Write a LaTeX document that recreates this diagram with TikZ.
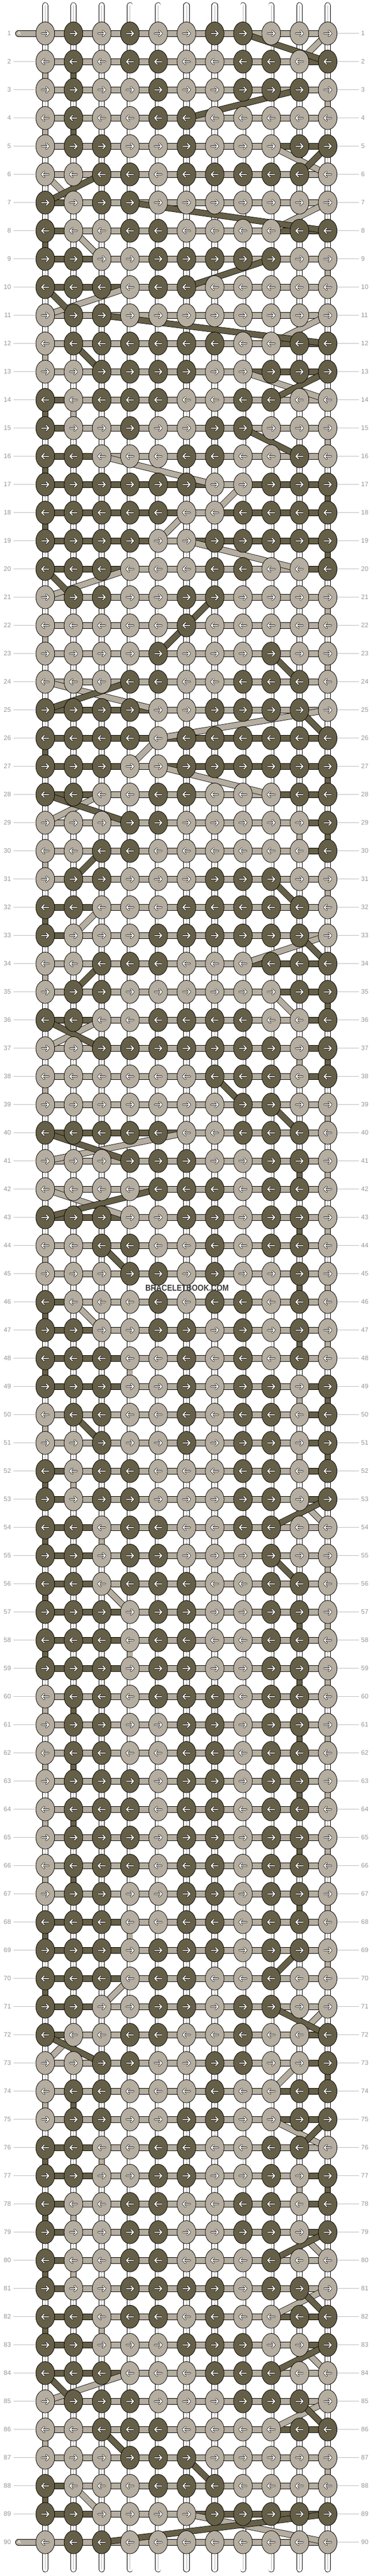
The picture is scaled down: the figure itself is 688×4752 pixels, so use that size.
\documentclass[tikz,border=0pt]{standalone}
\usepackage{fontspec}
\setmainfont{Liberation Sans}
\usetikzlibrary{shapes.geometric}
\definecolor{cL}{RGB}{181,174,160}
\definecolor{cD}{RGB}{101,95,71}
\definecolor{labc}{RGB}{150,150,150}
\definecolor{linec}{RGB}{190,190,190}
\definecolor{wmark}{RGB}{60,60,60}
\pgfdeclarelayer{lstr}
\pgfdeclarelayer{lbar}
\pgfdeclarelayer{lband}
\pgfdeclarelayer{lfront}
\pgfsetlayers{lstr,lbar,lband,main,lfront}
\newcount\PL \newcount\PR \newcount\PA \newcount\PB \newcount\tmpc
\newcommand\KRow[2]{\foreach \k [count=\c] in {#2}{\expandafter\xdef\csname kc-#1-\c\endcsname{\k}}}
\newcommand\FindPL[1]{%
  \global\PL=0 \tmpc=2 %
  \loop
    \ifnum\PL=0
      \if\csname kc-#1-\the\tmpc\endcsname\csname kc-#1-1\endcsname\else\global\PL=\tmpc\fi
    \fi
    \advance\tmpc by 1
  \ifnum\tmpc<12 \repeat}
\newcommand\FindPR[1]{%
  \global\PR=0 \tmpc=10 %
  \loop
    \ifnum\PR=0
      \if\csname kc-#1-\the\tmpc\endcsname\csname kc-#1-11\endcsname\else\global\PR=\tmpc\fi
    \fi
    \advance\tmpc by -1
  \ifnum\tmpc>0 \repeat}
% #1 row, #2 next row, #3 pos in row, #4 pos in next row, #5 colour letter, #6 mode S (struts) or B (bands)
\newcommand\Conn[6]{%
  \ifnum#3>0 \ifnum#4>0
    \ifnum#3=#4\relax
      \if#6S\draw[cstrut,double=c#5] (k-#1-#3.center) -- (k-#2-#4.center);\fi
    \else
      \if#6B\draw[cband,double=c#5] (k-#1-#3.center) -- (k-#2-#4.center);\fi
    \fi
  \fi\fi}
\newcommand\DoTurns[1]{%
\foreach \r in {1,...,89}{%
  \pgfmathtruncatemacro\rn{\r+1}%
  \ifodd\r
    \FindPR{\r}\global\PA=\PR \FindPR{\rn}\global\PB=\PR \gdef\edgecol{11}%
  \else
    \FindPL{\r}\global\PA=\PL \FindPL{\rn}\global\PB=\PL \gdef\edgecol{1}%
  \fi
  \edef\ea{\csname kc-\r-\edgecol\endcsname}%
  \edef\eb{\csname kc-\rn-\edgecol\endcsname}%
  \foreach \X in {L,D}{%
    \if\ea\X\edef\pa{\edgecol}\else\edef\pa{\the\PA}\fi
    \if\eb\X\edef\pb{\edgecol}\else\edef\pb{\the\PB}\fi
    \Conn{\r}{\rn}{\pa}{\pb}{\X}{#1}%
  }%
}}
\tikzset{
  knot/.style={ellipse, draw=black, line width=0.8pt, minimum width=34.6pt, minimum height=42.6pt, inner sep=0pt},
  wstrut/.style={draw=black, line width=0.8pt, double=white, double distance=9.6pt},
  cstrut/.style={draw=black, line width=0.8pt, double distance=9.6pt},
  barst/.style={draw=black, line width=0.8pt, double distance=10.2pt},
  cband/.style={draw=black, line width=0.8pt, double distance=10pt},
  midl/.style={draw=black!30, line width=0.7pt},
  labt/.style={font=\fontsize{12}{14}\selectfont, text=labc, inner xsep=4pt, inner ysep=1pt},
  labl/.style={draw=linec, line width=1pt},
  arrb/.style={line width=3.3pt, black, line cap=round, line join=round},
  arrw/.style={line width=1.9pt, white, line cap=round, line join=round},
  rarr/.pic={\draw[arrb] (-6.5,0)--(6.5,0) (1.8,-4.8)--(6.5,0)--(1.8,4.8);
             \draw[arrw] (-6.5,0)--(6.5,0) (1.8,-4.8)--(6.5,0)--(1.8,4.8);},
  larr/.pic={\draw[arrb] (6.5,0)--(-6.5,0) (-1.8,-4.8)--(-6.5,0)--(-1.8,4.8);
             \draw[arrw] (6.5,0)--(-6.5,0) (-1.8,-4.8)--(-6.5,0)--(-1.8,4.8);},
  atext/.style={font=\fontsize{9}{10}\selectfont, text=white, inner sep=0pt}
}
\KRow{1}{L,D,L,D,L,L,D,D,L,L,L}
\KRow{2}{L,D,L,D,D,L,L,D,D,L,D}
\KRow{3}{L,D,L,L,D,L,L,D,D,D,L}
\KRow{4}{L,D,L,L,D,D,L,L,L,L,L}
\KRow{5}{L,D,D,L,L,D,L,L,L,D,D}
\KRow{6}{L,L,D,D,L,D,D,D,D,D,L}
\KRow{7}{D,L,D,D,L,L,L,L,L,L,L}
\KRow{8}{D,L,L,D,D,L,L,L,L,D,D}
\KRow{9}{D,D,L,L,D,D,D,D,D,L,L}
\KRow{10}{D,D,D,L,D,D,L,L,L,L,L}
\KRow{11}{L,D,D,L,L,L,L,L,L,L,L}
\KRow{12}{L,D,D,D,D,D,D,L,L,D,D}
\KRow{13}{L,L,D,D,D,D,L,L,D,D,D}
\KRow{14}{D,L,D,D,D,L,L,D,D,L,L}
\KRow{15}{D,L,L,D,L,L,D,D,L,L,L}
\KRow{16}{D,D,L,L,L,D,D,L,L,D,L}
\KRow{17}{D,D,D,D,D,D,L,L,D,D,D}
\KRow{18}{D,D,D,D,D,L,L,D,D,D,D}
\KRow{19}{D,D,D,D,L,L,D,D,D,D,D}
\KRow{20}{D,D,D,L,L,L,D,D,L,L,D}
\KRow{21}{L,D,D,L,L,D,D,L,L,L,L}
\KRow{22}{L,L,L,L,L,D,L,L,L,L,L}
\KRow{23}{L,L,L,L,D,L,L,L,D,L,L}
\KRow{24}{L,L,L,D,D,L,L,D,D,D,L}
\KRow{25}{D,D,D,D,L,L,D,D,D,D,L}
\KRow{26}{D,D,D,D,L,D,D,D,D,D,D}
\KRow{27}{D,D,D,L,L,D,D,D,D,D,D}
\KRow{28}{D,D,L,L,D,D,L,L,L,D,D}
\KRow{29}{L,L,L,D,D,L,L,L,L,L,D}
\KRow{30}{L,L,D,D,L,L,L,L,L,L,D}
\KRow{31}{L,D,D,L,L,L,D,D,D,L,L}
\KRow{32}{D,D,L,L,L,D,D,D,D,D,L}
\KRow{33}{D,L,L,L,D,D,D,D,D,D,L}
\KRow{34}{L,L,D,D,D,L,L,L,D,D,D}
\KRow{35}{L,D,D,L,L,L,L,L,L,D,D}
\KRow{36}{D,D,L,L,D,D,D,D,L,L,D}
\KRow{37}{L,L,D,D,D,D,D,D,D,L,D}
\KRow{38}{L,L,L,L,L,L,D,D,D,L,D}
\KRow{39}{L,L,L,L,L,L,L,D,D,L,L}
\KRow{40}{D,D,D,D,D,L,L,D,D,D,L}
\KRow{41}{L,L,L,D,D,D,L,L,D,D,L}
\KRow{42}{L,L,L,L,D,D,D,L,D,D,L}
\KRow{43}{D,D,D,L,L,D,D,L,D,D,L}
\KRow{44}{L,L,D,D,L,L,D,L,D,D,L}
\KRow{45}{L,L,L,D,D,L,D,L,L,D,L}
\KRow{46}{D,L,L,L,D,L,D,D,L,D,L}
\KRow{47}{D,D,L,L,D,D,L,D,L,D,L}
\KRow{48}{D,D,D,L,L,D,L,D,L,D,L}
\KRow{49}{D,D,D,L,L,D,L,D,D,L,D}
\KRow{50}{L,D,D,L,L,D,L,D,D,L,D}
\KRow{51}{L,L,D,L,L,D,L,D,D,L,D}
\KRow{52}{D,L,D,D,L,L,L,D,D,L,D}
\KRow{53}{D,L,D,D,L,L,L,D,D,L,D}
\KRow{54}{D,D,L,D,D,L,L,D,D,L,L}
\KRow{55}{D,D,L,D,D,L,L,L,D,L,L}
\KRow{56}{D,D,L,D,D,D,L,L,D,D,L}
\KRow{57}{D,D,D,L,D,D,L,L,D,D,L}
\KRow{58}{D,D,D,L,D,D,L,L,D,D,L}
\KRow{59}{D,D,D,L,D,D,L,L,D,D,L}
\KRow{60}{L,D,D,L,D,D,D,L,D,D,L}
\KRow{61}{L,D,D,L,L,D,D,L,D,D,L}
\KRow{62}{L,D,D,L,L,D,D,L,D,D,L}
\KRow{63}{L,D,D,D,L,D,D,L,D,D,L}
\KRow{64}{L,D,D,D,L,D,D,L,D,D,L}
\KRow{65}{L,D,D,D,L,D,D,L,D,D,L}
\KRow{66}{L,D,D,D,L,D,D,L,D,D,L}
\KRow{67}{L,D,D,L,L,D,D,L,D,D,L}
\KRow{68}{D,D,D,L,L,D,D,L,D,D,L}
\KRow{69}{D,D,D,L,D,D,D,L,D,D,L}
\KRow{70}{D,D,D,L,D,D,L,L,D,L,L}
\KRow{71}{D,D,L,L,D,D,L,D,D,L,L}
\KRow{72}{D,L,L,D,D,L,L,D,L,L,D}
\KRow{73}{L,L,D,D,L,L,D,D,L,L,D}
\KRow{74}{L,D,D,L,L,L,D,L,L,D,D}
\KRow{75}{L,D,D,L,L,D,D,L,L,D,D}
\KRow{76}{D,D,L,L,D,D,L,L,D,D,L}
\KRow{77}{D,D,L,L,D,D,L,L,D,L,D}
\KRow{78}{D,L,L,D,D,L,L,D,D,L,D}
\KRow{79}{D,L,L,D,D,L,L,D,D,L,D}
\KRow{80}{D,L,L,D,D,L,L,L,D,L,L}
\KRow{81}{D,L,L,D,D,D,D,L,D,D,L}
\KRow{82}{D,D,L,D,D,L,D,L,L,D,D}
\KRow{83}{D,D,L,L,L,D,D,D,L,L,D}
\KRow{84}{D,D,D,L,L,L,D,D,D,L,L}
\KRow{85}{L,D,D,D,L,L,L,D,D,D,L}
\KRow{86}{L,L,D,D,D,L,L,L,L,D,D}
\KRow{87}{L,L,L,D,D,D,L,L,L,L,L}
\KRow{88}{D,L,L,L,D,D,D,L,L,L,L}
\KRow{89}{D,D,L,L,L,L,D,D,D,D,D}
\KRow{90}{L,D,D,L,L,L,L,L,L,L,L}
\begin{document}
\begin{tikzpicture}[x=1pt,y=-1pt]
\useasboundingbox (0,0) rectangle (688,4752);
% knots
\foreach \r in {1,...,90}{\foreach \c in {1,...,11}{%
  \edef\kk{\csname kc-\r-\c\endcsname}%
  \node[knot,fill=c\kk] (k-\r-\c) at ({83.4+52.1*(\c-1)},{61.7+52*(\r-1)}) {};
}}
% arrows on the knots
\begin{pgfonlayer}{lfront}
\foreach \r in {1,...,90}{\foreach \c in {1,...,11}{%
  \ifodd\r \pic at (k-\r-\c) {rarr};\else \pic at (k-\r-\c) {larr};\fi
}}
\node[font=\bfseries\fontsize{16}{18}\selectfont, text=wmark, xscale=0.87] (wm) at (345,2376) {BRACELETBOOK.COM};
\end{pgfonlayer}
% white core strings and coloured edge segments
\begin{pgfonlayer}{lstr}
\foreach \c in {1,...,11}{%
  \coordinate (t-\c) at ({83.4+52.1*(\c-1)},10);
  \coordinate (b-\c) at ({83.4+52.1*(\c-1)},4739.5);
  \draw[wstrut,line cap=round] (t-\c) -- (k-1-\c.center);
  \draw[midl] (t-\c) -- (k-1-\c.center);
  \draw[wstrut,line cap=round] (k-90-\c.center) -- (b-\c);
  \draw[midl] (k-90-\c.center) -- (b-\c);
}
\foreach \r in {1,...,89}{\pgfmathtruncatemacro\rn{\r+1}\foreach \c in {1,...,11}{%
  \draw[wstrut] (k-\r-\c.center) -- (k-\rn-\c.center);
  \draw[midl] (k-\r-\c.center) -- (k-\rn-\c.center);
}}
\DoTurns{S}
\end{pgfonlayer}
% horizontal threads
\coordinate (a-1) at (34,61.7);
\coordinate (a-90) at (34,4689.7);
\begin{pgfonlayer}{lbar}
\foreach \r in {1,...,90}{%
  \FindPL{\r}\FindPR{\r}%
  \edef\la{\csname kc-\r-1\endcsname}\edef\lb{\csname kc-\r-11\endcsname}%
  \foreach \i in {1,...,10}{%
    \pgfmathtruncatemacro\ii{\i+1}%
    \def\bc{L}%
    \if\la D\ifnum\PL=0 \def\bc{D}\else\ifnum\i<\PL\def\bc{D}\fi\fi\fi
    \if\lb D\ifnum\PR=0 \def\bc{D}\else\ifnum\i<\PR\else\def\bc{D}\fi\fi\fi
    \draw[barst,double=c\bc] (k-\r-\i.center) -- (k-\r-\ii.center);
  }%
}
\draw[barst,double=cL,line cap=round] (a-1) -- (k-1-1.center);
\draw[barst,double=cL,line cap=round] (a-90) -- (k-90-1.center);
\end{pgfonlayer}
% threads crossing between the rows
\begin{pgfonlayer}{lband}
\DoTurns{B}
\end{pgfonlayer}
\node[atext] (at-1) at (35.5,61.7) {A};
\node[atext] (at-90) at (35.5,4689.7) {A};
% row labels
\foreach \r in {1,...,90}{%
  \node[labt,anchor=east] (ll-\r) at (24.5,{61.7+52*(\r-1)}) {\r};
  \node[labt,anchor=west] (lr-\r) at (662,{61.7+52*(\r-1)}) {\r};
  \draw[labl] (k-\r-11) -- (lr-\r);
  \ifnum\r=1 \else\ifnum\r=90 \else\draw[labl] (ll-\r) -- (k-\r-1);\fi\fi
}
\end{tikzpicture}
\end{document}
